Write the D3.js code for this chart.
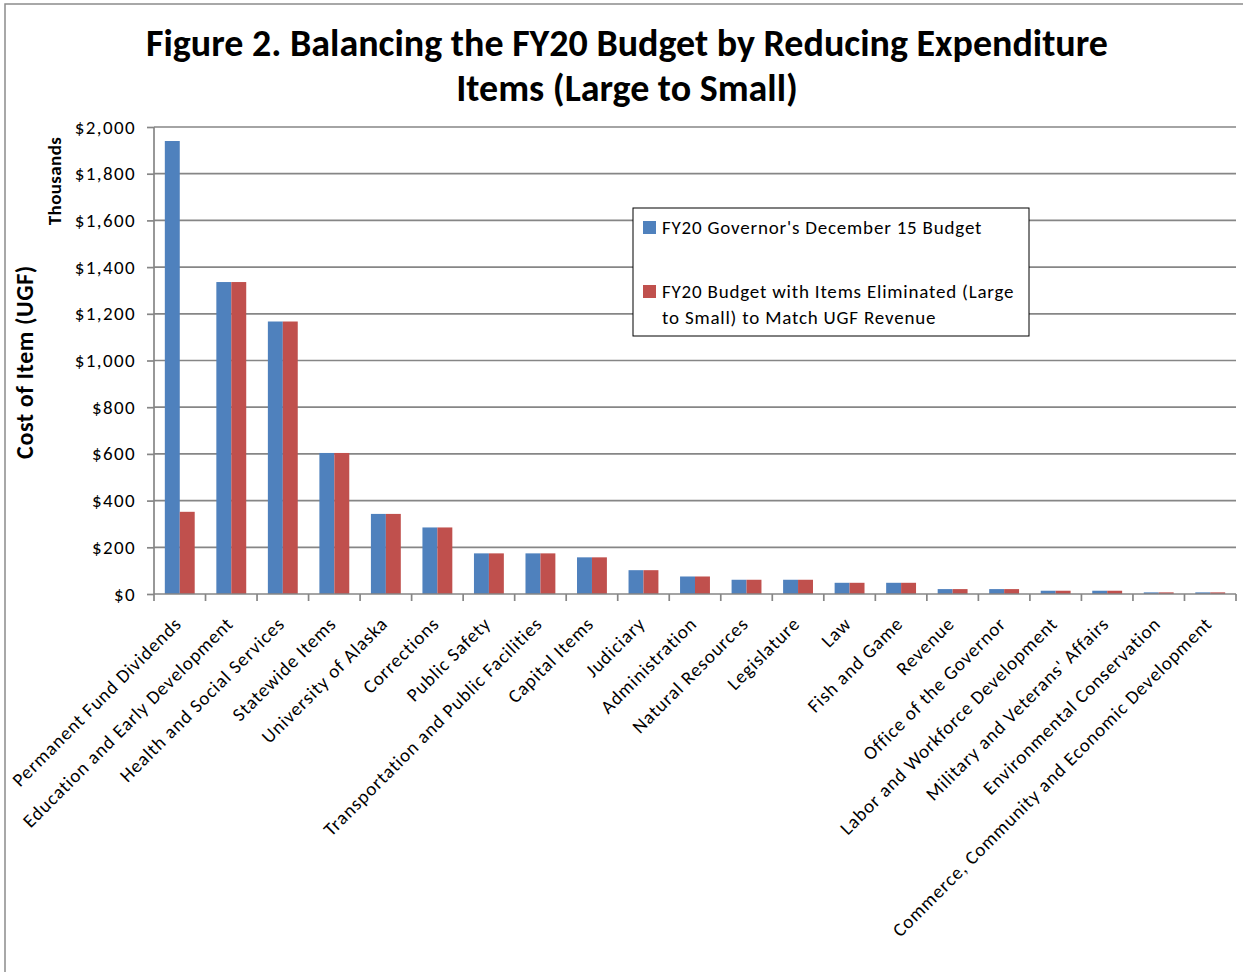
<!DOCTYPE html>
<html>
<head>
<meta charset="utf-8">
<script src="https://cdn.jsdelivr.net/npm/d3@7"></script>
<style>
  body { margin: 0; background: #fff; }
  text { font-family: Carlito, Lato, "Open Sans", sans-serif; fill: #000; }
</style>
</head>
<body>
<div id="chart"></div>
<script>
// Categories (largest to smallest) and the two series, in thousands of dollars
var categories = [
  "Permanent Fund Dividends", "Education and Early Development", "Health and Social Services",
  "Statewide Items", "University of Alaska", "Corrections", "Public Safety",
  "Transportation and Public Facilities", "Capital Items", "Judiciary", "Administration",
  "Natural Resources", "Legislature", "Law", "Fish and Game", "Revenue",
  "Office of the Governor", "Labor and Workforce Development", "Military and Veterans' Affairs",
  "Environmental Conservation", "Commerce, Community and Economic Development"
];
var governorBudget = [1940, 1336, 1167, 604, 343, 285, 174, 174, 157, 102, 75, 61, 61, 48, 48, 21, 21, 14, 14, 7, 7];
var eliminatedBudget = [352, 1336, 1167, 604, 343, 285, 174, 174, 157, 102, 75, 61, 61, 48, 48, 21, 21, 14, 14, 7, 7];
var yTicks = [0, 200, 400, 600, 800, 1000, 1200, 1400, 1600, 1800, 2000];
var seriesNames = ["FY20 Governor's December  15 Budget",
  "FY20 Budget with Items Eliminated (Large to Small) to Match UGF Revenue"];

var svgWidth = 1243;
var svgHeight = 972;
var plot = { left: 154, right: 1236, top: 127, bottom: 594 };
var colors = ["#4F81BD", "#C0504D"];
var gridColor = "#868686";

var svg = d3.select("#chart")
  .append("svg")
  .attr("width", svgWidth)
  .attr("height", svgHeight);

// outer chart frame (only the top and left edges are inside the picture)
svg.append("rect")
  .attr("x", 5).attr("y", 4)
  .attr("width", 1400).attr("height", 1200)
  .attr("fill", "none")
  .attr("stroke", "#8c8c8c")
  .attr("stroke-width", 1.5);

// title
svg.append("text")
  .attr("x", 627).attr("y", 56)
  .attr("text-anchor", "middle")
  .attr("font-size", "38px")
  .attr("font-weight", "bold")
  .text("Figure 2. Balancing the FY20 Budget by Reducing Expenditure");
svg.append("text")
  .attr("x", 627).attr("y", 101)
  .attr("text-anchor", "middle")
  .attr("font-size", "38px")
  .attr("font-weight", "bold")
  .text("Items (Large to Small)");

// scales
var x0 = d3.scaleBand()
  .domain(categories)
  .range([plot.left, plot.right])
  .paddingInner(0.42)
  .paddingOuter(0.21);
var x1 = d3.scaleBand()
  .domain([0, 1])
  .range([0, x0.bandwidth()]);
var y = d3.scaleLinear()
  .domain([0, 2000])
  .range([plot.bottom, plot.top]);

// horizontal gridlines
svg.append("g")
  .selectAll("line")
  .data(yTicks.filter(d => d > 0))
  .enter()
  .append("line")
  .attr("x1", plot.left).attr("x2", plot.right)
  .attr("y1", d => y(d)).attr("y2", d => y(d))
  .attr("stroke", gridColor)
  .attr("stroke-width", 1.7);

// bars
var series = [governorBudget, eliminatedBudget];
var groups = svg.append("g")
  .selectAll("g")
  .data(categories)
  .enter()
  .append("g")
  .attr("transform", d => `translate(${x0(d)},0)`);
groups.selectAll("rect")
  .data((d, i) => series.map((s, k) => ({ k: k, v: s[i] })))
  .enter()
  .append("rect")
  .attr("x", d => x1(d.k))
  .attr("y", d => y(d.v))
  .attr("width", x1.bandwidth())
  .attr("height", d => y(0) - y(d.v))
  .attr("fill", d => colors[d.k]);

// y axis
var leftAxis = d3.axisLeft(y)
  .tickValues(yTicks)
  .tickSize(7)
  .tickPadding(11)
  .tickFormat(d => "$" + d3.format(",")(d));
var yAxisG = svg.append("g")
  .attr("transform", `translate(${plot.left},0)`)
  .call(leftAxis);
yAxisG.select(".domain").attr("stroke", gridColor).attr("stroke-width", 1.7)
  .attr("d", `M0,${plot.bottom}V${plot.top}`);
yAxisG.selectAll(".tick line").attr("stroke", gridColor).attr("stroke-width", 1.7);
yAxisG.selectAll(".tick text")
  .attr("font-size", "19px")
  .attr("letter-spacing", "1.4px")
  .attr("font-family", "Carlito, Lato, 'Open Sans', sans-serif")
  .attr("fill", "#000");

// x axis: category boundaries as ticks
var bottomAxis = d3.axisBottom(x0).tickSize(0).tickFormat("");
var xAxisG = svg.append("g")
  .attr("transform", `translate(0,${plot.bottom})`)
  .call(bottomAxis);
xAxisG.select(".domain").attr("stroke", gridColor).attr("stroke-width", 1.7)
  .attr("d", `M${plot.left},0H${plot.right}`);
xAxisG.selectAll("line.sep")
  .data(d3.range(categories.length + 1))
  .enter()
  .append("line")
  .attr("class", "sep")
  .attr("x1", i => plot.left + i * x0.step())
  .attr("x2", i => plot.left + i * x0.step())
  .attr("y1", 0).attr("y2", 7)
  .attr("stroke", gridColor)
  .attr("stroke-width", 1.7);

// rotated category labels
svg.append("g")
  .selectAll("text")
  .data(categories)
  .enter()
  .append("text")
  .attr("transform", d => `translate(${x0(d) + x0.bandwidth() / 2 + 3},${plot.bottom + 31}) rotate(-45)`)
  .attr("text-anchor", "end")
  .attr("font-size", "19px")
  .attr("letter-spacing", "0.9px")
  .text(d => d);

// axis titles
svg.append("text")
  .attr("transform", "translate(61,181) rotate(-90)")
  .attr("text-anchor", "middle")
  .attr("font-size", "19px")
  .attr("letter-spacing", "0.4px")
  .attr("font-weight", "bold")
  .text("Thousands");
svg.append("text")
  .attr("transform", "translate(33,362) rotate(-90)")
  .attr("text-anchor", "middle")
  .attr("font-size", "24px")
  .attr("letter-spacing", "0.6px")
  .attr("font-weight", "bold")
  .text("Cost of Item (UGF)");

// legend
var legend = svg.append("g").attr("transform", "translate(633,208)");
legend.append("rect")
  .attr("width", 396).attr("height", 128)
  .attr("fill", "#fff")
  .attr("stroke", "#000")
  .attr("stroke-width", 1);
var legendRows = [
  { k: 0, y: 13, lines: [seriesNames[0]] },
  { k: 1, y: 77, lines: ["FY20 Budget with Items Eliminated (Large", "to Small) to Match UGF Revenue"] }
];
legendRows.forEach(function (row) {
  legend.append("rect")
    .attr("x", 10).attr("y", row.y)
    .attr("width", 13).attr("height", 13)
    .attr("fill", colors[row.k]);
  var t = legend.append("text")
    .attr("x", 29).attr("y", row.y + 13)
    .attr("font-size", "19px")
    .attr("letter-spacing", "0.8px");
  row.lines.forEach(function (line, j) {
    t.append("tspan")
      .attr("x", 29)
      .attr("dy", j === 0 ? 0 : 26)
      .text(line);
  });
});
</script>
</body>
</html>
